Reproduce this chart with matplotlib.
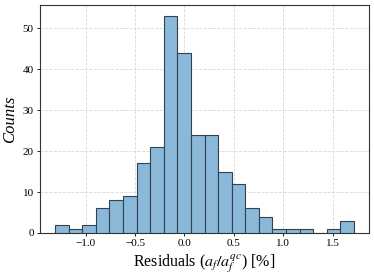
import numpy as np
import matplotlib
matplotlib.use("Agg")
import matplotlib.pyplot as plt

plt.rcParams['font.family'] = ['Liberation Serif', 'DejaVu Serif']
plt.rcParams['mathtext.fontset'] = 'stix'

bin_start = -1.31
bin_width = 0.1375
counts = [2, 1, 2, 6, 8, 9, 17, 21, 53, 44, 24, 24, 15, 12, 6, 4, 1, 1, 1, 0, 1, 3]
xticks = [-1.0, -0.5, 0.0, 0.5, 1.0, 1.5]
yticks = [0, 10, 20, 30, 40, 50]

edges = bin_start + bin_width * np.arange(len(counts) + 1)

fig = plt.figure(figsize=(3.74, 2.78), dpi=100)
ax = fig.add_axes([40/374, 1 - 233/278, (369-40)/374, (233-5)/278])
ax.hist(edges[:-1], bins=edges, weights=counts, color='#8ab8d9',
        edgecolor='#34424f', linewidth=0.8, zorder=3)
ax.grid(True, linestyle='--', color='#d8d8d8', linewidth=0.6, zorder=0)
ax.set_xticks(xticks)
ax.set_xticklabels([f"{t:.1f}".replace('-', '\u2212') for t in xticks])
ax.set_yticks(yticks)
ax.tick_params(labelsize=8, length=2.5, width=0.6, pad=2)
for s in ax.spines.values():
    s.set_linewidth(0.8)
    s.set_color('#333333')
ax.set_xlabel(r"Residuals ($a_f/a_f^{qc}$) [%]", fontsize=11.5, labelpad=3)
ax.set_ylabel("Counts", fontsize=12, style='italic', labelpad=3)
fig.savefig("out.png", dpi=100)
